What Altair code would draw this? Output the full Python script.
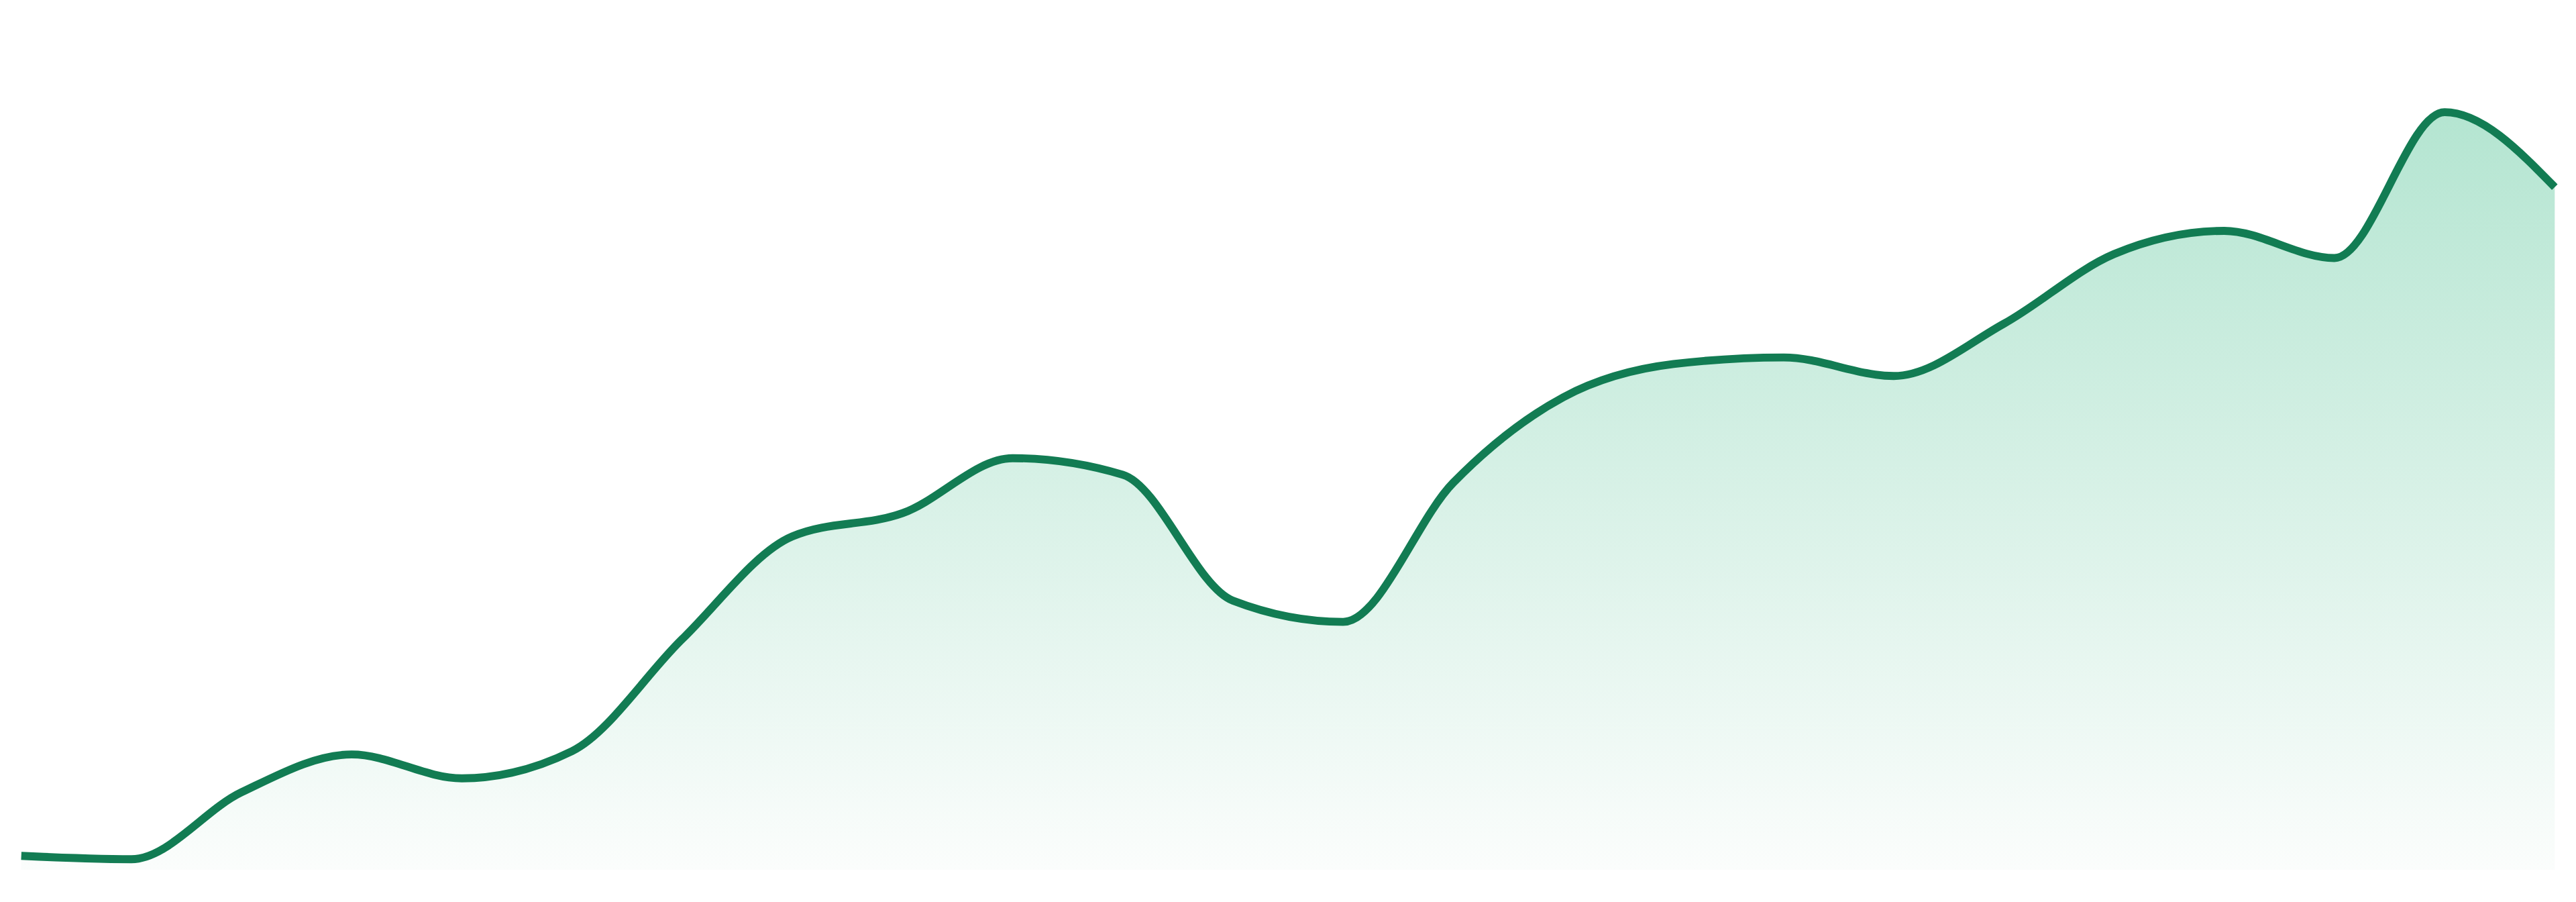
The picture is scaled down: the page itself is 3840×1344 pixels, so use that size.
import altair as alt
import pandas as pd

# Data (24 equally spaced samples)
points = list(range(24))
values = [2.1, 1.6, 11.7, 17.4, 13.8, 17.9, 34.8, 50.3, 53.8, 62.1, 59.6, 40.6,
          37.4, 58.4, 71.3, 76.3, 77.3, 74.5, 82.4, 92.9, 96.4, 92.3, 114.3, 103.0]

df = pd.DataFrame({"i": points, "v": values})

x_enc = alt.X("i:Q", axis=None, scale=alt.Scale(domain=[0, 23], nice=False, zero=False))
y_enc = alt.Y("v:Q", axis=None, scale=alt.Scale(domain=[0, 129.6], nice=False))

gradient = alt.Gradient(
    gradient="linear",
    stops=[
        alt.GradientStop(color="#b4e5d1", offset=0),
        alt.GradientStop(color="#fbfdfc", offset=1),
    ],
    x1=1, x2=1, y1=0, y2=1,
)

area = alt.Chart(df).mark_area(interpolate="monotone", color=gradient).encode(x=x_enc, y=y_enc)
line = alt.Chart(df).mark_line(interpolate="monotone", color="#127c53", strokeWidth=12).encode(x=x_enc, y=y_enc)

chart = (
    alt.layer(area, line)
    .properties(width=3824, height=1296, padding=0, background="white")
    .configure_view(stroke=None)
)

chart.save("out.html", embed_options={"renderer": "svg", "actions": False})
